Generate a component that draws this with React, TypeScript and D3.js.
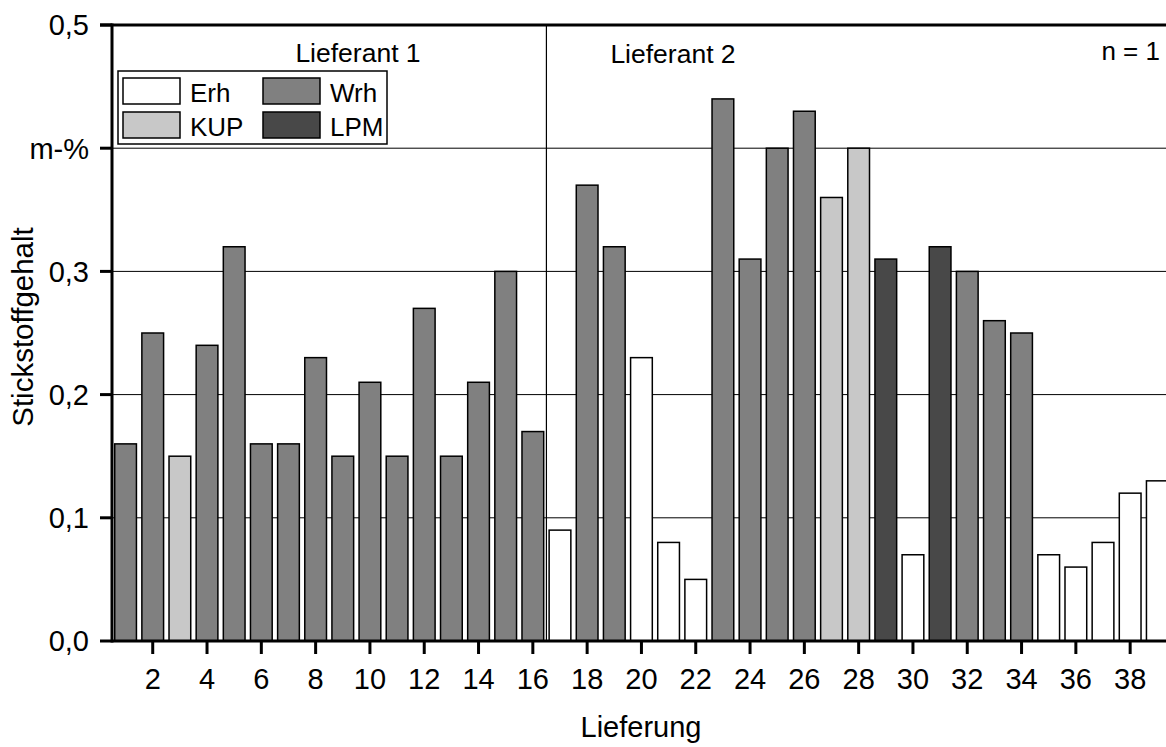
import * as d3 from 'd3';

const deliveries = d3.range(1, 40);
const nitrogen = [
  0.16, 0.25, 0.15, 0.24, 0.32, 0.16, 0.16, 0.23, 0.15, 0.21,
  0.15, 0.27, 0.15, 0.21, 0.30, 0.17, 0.09, 0.37, 0.32, 0.23,
  0.08, 0.05, 0.44, 0.31, 0.40, 0.43, 0.36, 0.40, 0.31, 0.07,
  0.32, 0.30, 0.26, 0.25, 0.07, 0.06, 0.08, 0.12, 0.13,
];
const material = [
  'Wrh', 'Wrh', 'KUP', 'Wrh', 'Wrh', 'Wrh', 'Wrh', 'Wrh', 'Wrh', 'Wrh',
  'Wrh', 'Wrh', 'Wrh', 'Wrh', 'Wrh', 'Wrh', 'Erh', 'Wrh', 'Wrh', 'Erh',
  'Erh', 'Erh', 'Wrh', 'Wrh', 'Wrh', 'Wrh', 'KUP', 'KUP', 'LPM', 'Erh',
  'LPM', 'Wrh', 'Wrh', 'Wrh', 'Erh', 'Erh', 'Erh', 'Erh', 'Erh',
];
const categories = ['Erh', 'Wrh', 'KUP', 'LPM'];
const fills = ['#ffffff', '#808080', '#c8c8c8', '#484848'];
const yTicks = [0, 0.1, 0.2, 0.3, 0.4, 0.5];
const yTickLabels = ['0,0', '0,1', '0,2', '0,3', 'm-%', '0,5'];
const xTicks = d3.range(2, 40, 2);
const supplierSplit = 16.5;

const W = 1166;
const H = 747;
const left = 112;
const top = 25;
const bottom = 641;

export default function App() {
  const x = d3.scaleLinear().domain([0.5, 39.32]).range([left, W]);
  const y = d3.scaleLinear().domain([0, 0.5]).range([bottom, top]);
  const color = d3.scaleOrdinal<string, string>().domain(categories).range(fills);
  const barW = (x(1) - x(0)) * 0.8;
  const font = 'Arial, "Liberation Sans", sans-serif';

  return (
    <svg width={W} height={H} style={{ position: 'absolute', left: 0, top: 0, fontFamily: font }}>
      <defs>
        <clipPath id="plot">
          <rect x={left} y={top} width={W - left} height={bottom - top} />
        </clipPath>
      </defs>

      {/* grid lines */}
      {yTicks.slice(1, 5).map(t => (
        <line key={t} x1={left} x2={W} y1={y(t)} y2={y(t)} stroke="#000" strokeWidth={1} />
      ))}
      <line x1={x(supplierSplit)} x2={x(supplierSplit)} y1={top} y2={bottom} stroke="#000" strokeWidth={1.2} />

      {/* bars */}
      <g clipPath="url(#plot)">
        {deliveries.map((d, i) => (
          <rect
            key={d}
            x={x(d) - barW / 2}
            y={y(nitrogen[i])}
            width={barW}
            height={y(0) - y(nitrogen[i])}
            fill={color(material[i])}
            stroke="#000"
            strokeWidth={1.5}
          />
        ))}
      </g>

      {/* frame */}
      <line x1={left} x2={left} y1={top - 1.5} y2={bottom + 1.5} stroke="#000" strokeWidth={3} />
      <line x1={left} x2={W} y1={bottom} y2={bottom} stroke="#000" strokeWidth={3} />
      <line x1={left - 12} x2={W} y1={top} y2={top} stroke="#000" strokeWidth={3} />

      {/* y axis */}
      {yTicks.map((t, i) => (
        <g key={t}>
          <line x1={left - 12} x2={left} y1={y(t)} y2={y(t)} stroke="#000" strokeWidth={3} />
          <text x={89} y={y(t)} dy="0.36em" textAnchor="end" fontSize={29}>
            {yTickLabels[i]}
          </text>
        </g>
      ))}

      {/* x axis */}
      {xTicks.map(t => (
        <g key={t}>
          <line x1={x(t)} x2={x(t)} y1={bottom} y2={bottom + 13} stroke="#000" strokeWidth={3} />
          <text x={x(t)} y={689} textAnchor="middle" fontSize={29}>
            {t}
          </text>
        </g>
      ))}

      <text x={641} y={737} textAnchor="middle" fontSize={29}>Lieferung</text>
      <text transform={`translate(33,327) rotate(-90)`} textAnchor="middle" fontSize={29.5}>
        Stickstoffgehalt
      </text>

      {/* supplier labels */}
      <text x={358} y={62} textAnchor="middle" fontSize={26.5}>Lieferant 1</text>
      <text x={673} y={63} textAnchor="middle" fontSize={26.5}>Lieferant 2</text>
      <text x={1160} y={60} textAnchor="end" fontSize={26}>n = 1</text>

      {/* legend */}
      <g>
        <rect x={118} y={71} width={269} height={73} fill="#fff" stroke="#000" strokeWidth={1.5} />
        {categories.map((c, i) => {
          const col = i % 2;
          const row = Math.floor(i / 2);
          const lx = 123 + col * 140;
          const ly = 78 + row * 34;
          return (
            <g key={c}>
              <rect x={lx} y={ly} width={57} height={26} fill={fills[i]} stroke="#000" strokeWidth={1.5} />
              <text x={lx + 67} y={ly + 24} fontSize={26}>{c}</text>
            </g>
          );
        })}
      </g>
    </svg>
  );
}
